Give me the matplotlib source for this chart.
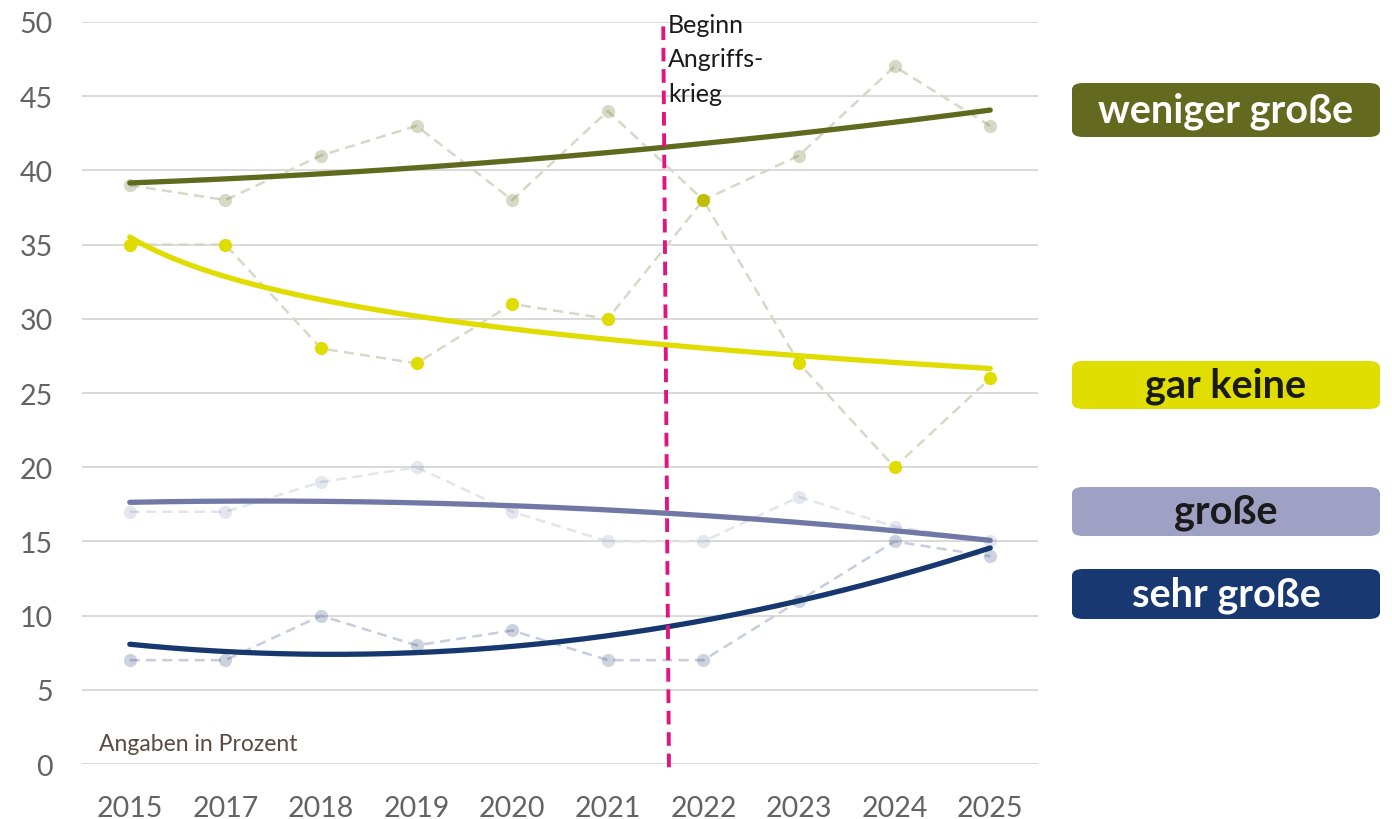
import numpy as np
import matplotlib.pyplot as plt
from matplotlib.patches import FancyBboxPatch

plt.rcParams['font.family'] = ['Lato', 'DejaVu Sans']

years = ['2015', '2017', '2018', '2019', '2020', '2021', '2022', '2023', '2024', '2025']
weniger_grosse = [39, 38, 41, 43, 38, 44, 38, 41, 47, 43]
gar_keine = [35, 35, 28, 27, 31, 30, 38, 27, 20, 26]
grosse = [17, 17, 19, 20, 17, 15, 15, 18, 16, 15]
sehr_grosse = [7, 7, 10, 8, 9, 7, 7, 11, 15, 14]

# position of the "Beginn Angriffskrieg" marker, between 2021 and 2022
war_start = 5.58

x = np.arange(len(years))
xt = x + 1  # Excel-style trendline x values


def poly_trend(y, deg=2):
    c = np.polyfit(xt, y, deg)
    xs = np.linspace(1, len(y), 200)
    return xs - 1, np.polyval(c, xs)


def log_trend(y):
    c = np.polyfit(np.log(xt), y, 1)
    xs = np.linspace(1, len(y), 200)
    return xs - 1, np.polyval(c, np.log(xs))


fig = plt.figure(figsize=(13.92, 8.2), dpi=100)
ax = fig.add_axes([0.0589, 0.067, 0.6868, 0.905])

series = [
    # values, dash colour, marker colour, marker alpha, marker z, trend colour, trend
    (weniger_grosse, '#d6d9c6', '#5f6a1e', 0.25, 5.5, '#5f6a1e', poly_trend),
    (gar_keine, '#d6d9c6', '#e0dc00', 1.0, 5, '#e0dc00', log_trend),
    (grosse, '#e2e4ee', '#7079a5', 0.18, 3, '#7079a5', poly_trend),
    (sehr_grosse, '#c7cddd', '#17386f', 0.22, 3, '#17386f', poly_trend),
]

for vals, dcol, mcol, ma, mz, tcol, trend in series:
    ax.plot(x, vals, ls=(0, (4, 2.5)), color=dcol, lw=1.8, zorder=2)
for vals, dcol, mcol, ma, mz, tcol, trend in series:
    tx, ty = trend(vals)
    ax.plot(tx, ty, color=tcol, lw=3.8, solid_capstyle='round', zorder=4)
for vals, dcol, mcol, ma, mz, tcol, trend in series:
    ax.plot(x, vals, ls='none', marker='o', ms=9.5, mew=0, color=mcol,
            alpha=ma, zorder=mz)

ax.plot([war_start, war_start + 0.06], [49.7, -0.3], color='#e0157f', lw=2.8,
        ls=(0, (3.5, 2)), zorder=6, clip_on=False)
ax.text(war_start + 0.05, 50.6, 'Beginn\nAngriffs-\nkrieg', fontsize=18,
        color='#1a1a1a', va='top', ha='left', linespacing=1.6, zorder=7)

ax.text(-0.32, 0.7, 'Angaben in Prozent', fontsize=16.5, color='#5a4a42',
        va='bottom', ha='left')

ax.set_xlim(-0.5, len(years) - 0.5)
ax.set_ylim(0, 50)
ax.set_yticks(range(0, 51, 5))
ax.set_xticks(x, years)
ax.grid(axis='y', color='#d9d9d9', lw=1.4, zorder=0)
ax.set_axisbelow(True)
for s in ax.spines.values():
    s.set_visible(False)
ax.tick_params(length=0, labelsize=20.5, labelcolor='#636363')
ax.tick_params(axis='x', pad=22)
ax.tick_params(axis='y', pad=21)

# label boxes on the right
labels = [
    ('weniger große', '#636a1f', 'white', 84, 138),
    ('gar keine', '#e0dd00', '#1a1a1a', 362, 410),
    ('große', '#9ea1c3', '#1a1a1a', 488, 537),
    ('sehr große', '#173870', 'white', 570, 620),
]
W, H = 1392, 820
for txt, bg, fg, top, bot in labels:
    x0, x1 = 1072, 1380
    box = FancyBboxPatch((x0 / W, 1 - bot / H), (x1 - x0) / W, (bot - top) / H,
                         boxstyle='round,pad=0,rounding_size=0.008',
                         transform=fig.transFigure, facecolor=bg,
                         edgecolor='none')
    fig.patches.append(box)
    fig.text((x0 + x1) / 2 / W, 1 - (top + bot) / 2 / H, txt, fontsize=28.5,
             fontweight='bold', color=fg, ha='center', va='center')

fig.savefig('out.png', dpi=100)
